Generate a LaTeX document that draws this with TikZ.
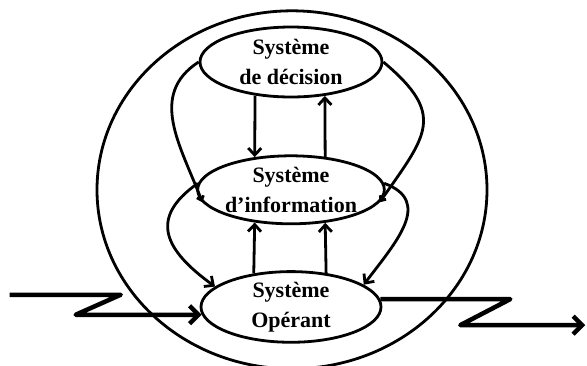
\documentclass[tikz,border=0pt]{standalone}
\usepackage{fontspec}
\setmainfont{Liberation Serif}
\usetikzlibrary{shapes.geometric, positioning, arrows.meta}

\begin{document}
\begin{tikzpicture}[x=1pt, y=-1pt, line width=2.8pt, >={Straight Barb[length=7pt,width=13pt]},
    sys/.style={ellipse, draw, inner sep=0pt, align=center, font=\fontsize{22}{30}\selectfont\bfseries},
    around/.style={ellipse, draw, minimum width=390pt, minimum height=358pt},
    memo/.style={->, >={Straight Barb[length=4pt,width=7pt]}},
    flow/.style={->, line width=4.5pt, line join=round, >={Straight Barb[length=9pt,width=18pt]}}]
    \useasboundingbox (0,0) rectangle (587,365);

    \node[sys, minimum width=182pt, minimum height=70pt] (dec) at (291,62) {Système\\de décision};
    \node[sys, minimum width=186pt, minimum height=68pt] (info) [below=56pt of dec] {Système\\d'information};
    \node[sys, minimum width=180pt, minimum height=68pt] (op) [below=45pt of info] {Système\\Opérant};
    \node[around] (env) at ([xshift=1pt]info) {};

    \path[->]
    (dec.223) edge (info.138)
    (info.44) edge (dec.315)
    (op.138) edge (info.222)
    (op.44) edge (info.316)

    (dec.west) edge [memo, out=213, in=111, looseness=1.1] (info.188)
    (dec.east) edge [memo, out=-40, in=55, looseness=1.5] (info.352)
    (info.176) edge [out=215, in=144, looseness=1.5] (op.165)
    (info.4) edge [out=-20, in=53, looseness=1.3] (op.17);

    % entree et sortie
    \coordinate (inflow) at ([xshift=-192pt, yshift=20pt]op.185);
    \coordinate (outflow) at ([xshift=205pt, yshift=-26pt]op.5);
    \draw[flow] (inflow) -- ++(111,0) -- ++(-45,20) -- (op.185);
    \draw[flow] (op.5) -- ++(130,0) -- ++(-50,26) -- (outflow);
\end{tikzpicture}
\end{document}
